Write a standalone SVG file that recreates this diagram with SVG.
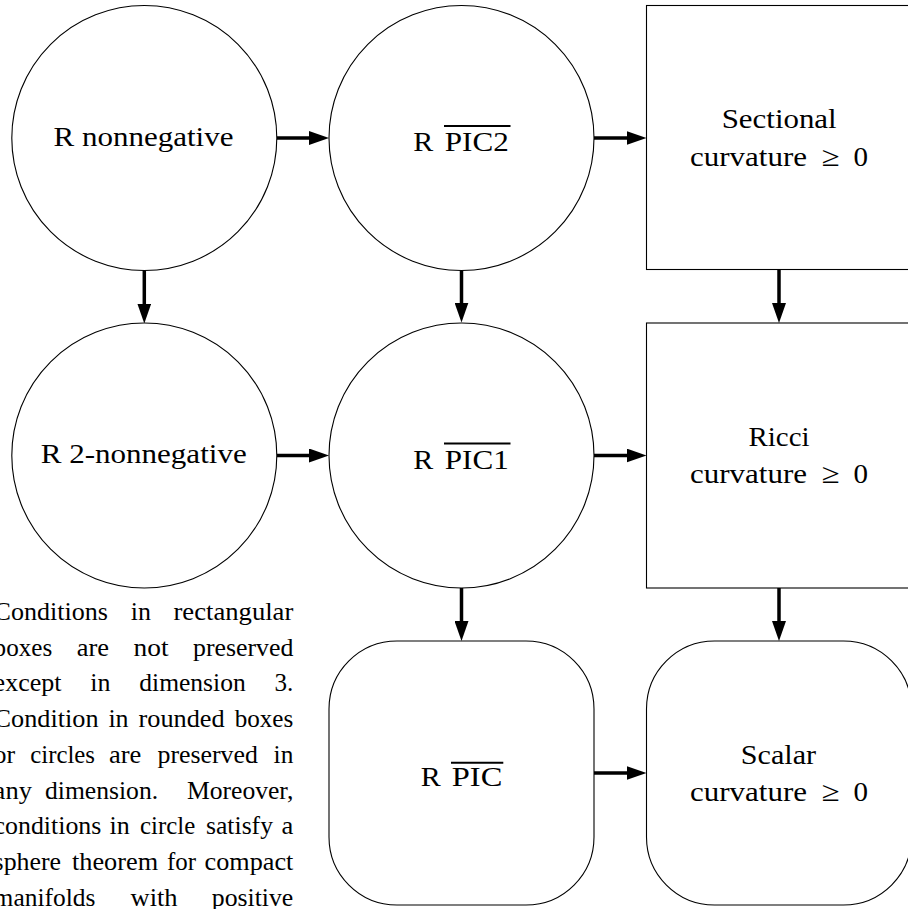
<svg xmlns="http://www.w3.org/2000/svg" width="908" height="909" viewBox="0 0 908 909">
<style>
.n{fill:#fff;stroke:#000;stroke-width:1.1}
.t{font-family:"Liberation Serif","Times New Roman",serif;font-size:28px;fill:#000}
.m{text-anchor:middle}
.p{font-family:"Liberation Serif","Times New Roman",serif;font-size:25px;fill:#000}
.ov{stroke:#000;stroke-width:2}
.edge{stroke:#000;stroke-width:3.5;fill:none;marker-end:url(#ah)}
</style>
<defs>
<marker id="ah" markerUnits="userSpaceOnUse" markerWidth="20" markerHeight="14" refX="8" refY="7" orient="auto">
<path d="M0,0 L20,7 L0,14 z" fill="#000"/>
</marker>
</defs>
<rect width="908" height="909" fill="#fff"/>

<g id="connectors">
<line class="edge" x1="277" y1="138" x2="317" y2="138"/>
<line class="edge" x1="594" y1="138" x2="634.5" y2="138"/>
<line class="edge" x1="144.3" y1="270.5" x2="144.3" y2="311.5"/>
<line class="edge" x1="461.5" y1="270.5" x2="461.5" y2="310.5"/>
<line class="edge" x1="779" y1="269.5" x2="779" y2="311"/>
<line class="edge" x1="276.8" y1="455.5" x2="317" y2="455.5"/>
<line class="edge" x1="594" y1="455.5" x2="634.5" y2="455.5"/>
<line class="edge" x1="461.5" y1="588" x2="461.5" y2="629"/>
<line class="edge" x1="779" y1="588" x2="779" y2="629"/>
<line class="edge" x1="594" y1="773" x2="634.5" y2="773"/>
</g>

<g id="r-nonnegative">
<circle class="n" cx="144.3" cy="138" r="132.5"/>
<text class="t m" x="143.5" y="146" textLength="180" lengthAdjust="spacingAndGlyphs">R nonnegative</text>
</g>

<g id="r-pic2">
<circle class="n" cx="461.5" cy="138" r="132.5"/>
<text class="t" x="413.3" y="151" textLength="20" lengthAdjust="spacingAndGlyphs">R</text>
<text class="t" x="444.8" y="151" textLength="64" lengthAdjust="spacingAndGlyphs">PIC2</text>
<line class="ov" x1="444" y1="126" x2="510.5" y2="126"/>
</g>

<g id="sectional">
<rect class="n" x="646.5" y="5.5" width="265" height="264"/>
<text class="t m" x="779.2" y="128.3" textLength="115" lengthAdjust="spacingAndGlyphs">Sectional</text>
<text class="t" x="690" y="165.7" textLength="117" lengthAdjust="spacingAndGlyphs">curvature</text>
<text class="t" x="821.7" y="165.7" textLength="18" lengthAdjust="spacingAndGlyphs">≥</text>
<text class="t" x="853.5" y="165.7" textLength="14.5" lengthAdjust="spacingAndGlyphs">0</text>
</g>

<g id="r-2-nonnegative">
<circle class="n" cx="144.3" cy="455.5" r="132.5"/>
<text class="t m" x="143.7" y="463" textLength="206" lengthAdjust="spacingAndGlyphs">R 2-nonnegative</text>
</g>

<g id="r-pic1">
<circle class="n" cx="461.5" cy="455.5" r="132.5"/>
<text class="t" x="413.3" y="468.5" textLength="20" lengthAdjust="spacingAndGlyphs">R</text>
<text class="t" x="444.8" y="468.5" textLength="64" lengthAdjust="spacingAndGlyphs">PIC1</text>
<line class="ov" x1="444" y1="443.5" x2="510.5" y2="443.5"/>
</g>

<g id="ricci">
<rect class="n" x="646.5" y="323" width="265" height="265"/>
<text class="t m" x="779" y="445.8" textLength="61" lengthAdjust="spacingAndGlyphs">Ricci</text>
<text class="t" x="690" y="483.2" textLength="117" lengthAdjust="spacingAndGlyphs">curvature</text>
<text class="t" x="821.7" y="483.2" textLength="18" lengthAdjust="spacingAndGlyphs">≥</text>
<text class="t" x="853.5" y="483.2" textLength="14.5" lengthAdjust="spacingAndGlyphs">0</text>
</g>

<g id="r-pic">
<rect class="n" x="329" y="641" width="265" height="264" rx="68" ry="68"/>
<text class="t" x="420.7" y="786" textLength="20" lengthAdjust="spacingAndGlyphs">R</text>
<text class="t" x="451.8" y="786" textLength="50.5" lengthAdjust="spacingAndGlyphs">PIC</text>
<line class="ov" x1="451" y1="762.7" x2="503.3" y2="762.7"/>
</g>

<g id="scalar">
<rect class="n" x="646.5" y="641" width="265" height="264" rx="68" ry="68"/>
<text class="t m" x="778.4" y="764" textLength="75.3" lengthAdjust="spacingAndGlyphs">Scalar</text>
<text class="t" x="690" y="800.7" textLength="117" lengthAdjust="spacingAndGlyphs">curvature</text>
<text class="t" x="821.7" y="800.7" textLength="18" lengthAdjust="spacingAndGlyphs">≥</text>
<text class="t" x="853.5" y="800.7" textLength="14.5" lengthAdjust="spacingAndGlyphs">0</text>
</g>

<g id="note">
<text class="p" x="-6.4" y="620" textLength="114.4" lengthAdjust="spacingAndGlyphs">Conditions</text>
<text class="p" x="130.7" y="620" textLength="20.2" lengthAdjust="spacingAndGlyphs">in</text>
<text class="p" x="173.5" y="620" textLength="119.8" lengthAdjust="spacingAndGlyphs">rectangular</text>

<text class="p" x="-6.4" y="655.7" textLength="58.6" lengthAdjust="spacingAndGlyphs">boxes</text>
<text class="p" x="76.7" y="655.7" textLength="32.3" lengthAdjust="spacingAndGlyphs">are</text>
<text class="p" x="133.5" y="655.7" textLength="35" lengthAdjust="spacingAndGlyphs">not</text>
<text class="p" x="193" y="655.7" textLength="100.4" lengthAdjust="spacingAndGlyphs">preserved</text>

<text class="p" x="-6.4" y="691.4" textLength="67.9" lengthAdjust="spacingAndGlyphs">except</text>
<text class="p" x="90.3" y="691.4" textLength="20.2" lengthAdjust="spacingAndGlyphs">in</text>
<text class="p" x="139.3" y="691.4" textLength="106.4" lengthAdjust="spacingAndGlyphs">dimension</text>
<text class="p" x="274.5" y="691.4" textLength="18.8" lengthAdjust="spacingAndGlyphs">3.</text>

<text class="p" x="-6.4" y="727.1" textLength="104.9" lengthAdjust="spacingAndGlyphs">Condition</text>
<text class="p" x="108.4" y="727.1" textLength="20.2" lengthAdjust="spacingAndGlyphs">in</text>
<text class="p" x="138.5" y="727.1" textLength="86.2" lengthAdjust="spacingAndGlyphs">rounded</text>
<text class="p" x="234.7" y="727.1" textLength="58.6" lengthAdjust="spacingAndGlyphs">boxes</text>

<text class="p" x="-6.4" y="762.8" textLength="21.6" lengthAdjust="spacingAndGlyphs">or</text>
<text class="p" x="30.3" y="762.8" textLength="64.7" lengthAdjust="spacingAndGlyphs">circles</text>
<text class="p" x="109" y="762.8" textLength="32.3" lengthAdjust="spacingAndGlyphs">are</text>
<text class="p" x="157.5" y="762.8" textLength="100.4" lengthAdjust="spacingAndGlyphs">preserved</text>
<text class="p" x="273.6" y="762.8" textLength="19.7" lengthAdjust="spacingAndGlyphs">in</text>

<text class="p" x="-6.4" y="798.5" textLength="38.3" lengthAdjust="spacingAndGlyphs">any</text>
<text class="p" x="45" y="798.5" textLength="113.1" lengthAdjust="spacingAndGlyphs">dimension.</text>
<text class="p" x="186.9" y="798.5" textLength="106.4" lengthAdjust="spacingAndGlyphs">Moreover,</text>

<text class="p" x="-6.4" y="834.2" textLength="107.7" lengthAdjust="spacingAndGlyphs">conditions</text>
<text class="p" x="109.5" y="834.2" textLength="20.2" lengthAdjust="spacingAndGlyphs">in</text>
<text class="p" x="140" y="834.2" textLength="55.2" lengthAdjust="spacingAndGlyphs">circle</text>
<text class="p" x="206" y="834.2" textLength="67" lengthAdjust="spacingAndGlyphs">satisfy</text>
<text class="p" x="281.5" y="834.2" textLength="11.8" lengthAdjust="spacingAndGlyphs">a</text>

<text class="p" x="-6.4" y="869.9" textLength="67.4" lengthAdjust="spacingAndGlyphs">sphere</text>
<text class="p" x="72" y="869.9" textLength="86.1" lengthAdjust="spacingAndGlyphs">theorem</text>
<text class="p" x="167" y="869.9" textLength="29" lengthAdjust="spacingAndGlyphs">for</text>
<text class="p" x="204.6" y="869.9" textLength="88.7" lengthAdjust="spacingAndGlyphs">compact</text>

<text class="p" x="-6.4" y="905.6" textLength="101.7" lengthAdjust="spacingAndGlyphs">manifolds</text>
<text class="p" x="130.5" y="905.6" textLength="47.1" lengthAdjust="spacingAndGlyphs">with</text>
<text class="p" x="211.8" y="905.6" textLength="81.5" lengthAdjust="spacingAndGlyphs">positive</text>
</g>
</svg>
